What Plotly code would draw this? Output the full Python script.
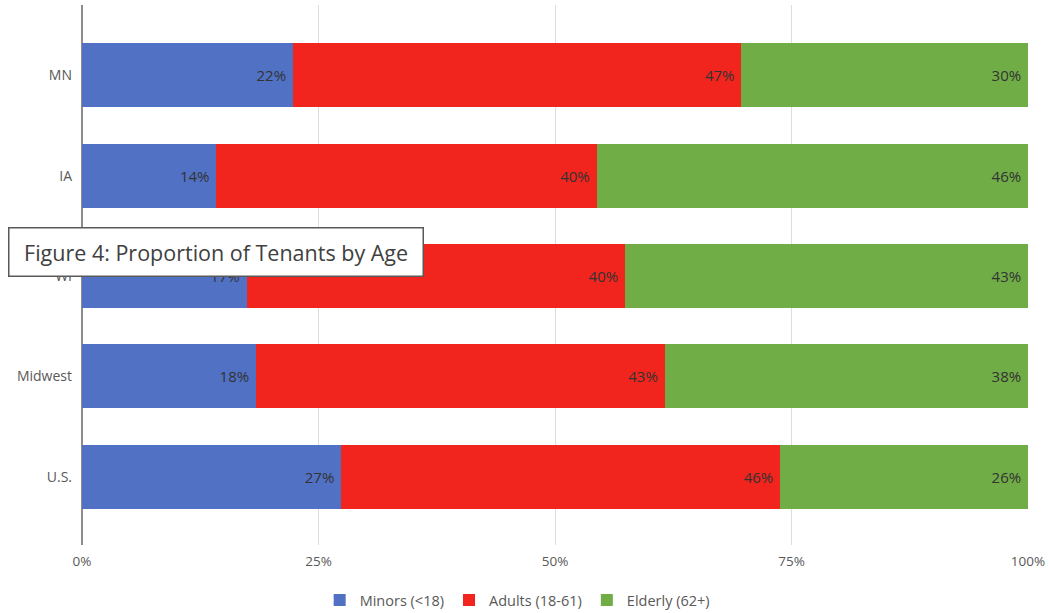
import plotly.graph_objects as go

AZUL  = "#5071C4"
ROJO  = "#F1251E"
VERDE = "#70AD47"
GRIS  = "#595959"

regiones = ["U.S.", "Midwest", "WI", "IA", "MN"]
menores  = [27.4, 18.4, 17.4, 14.2, 22.3]
adultos  = [46.4, 43.2, 40.0, 40.2, 47.4]
mayores  = [26.2, 38.4, 42.6, 45.6, 30.3]

series = [
    ("Minors (<18)", menores, AZUL),
    ("Adults (18-61)", adultos, ROJO),
    ("Elderly (62+)", mayores, VERDE),
]

fig = go.Figure()
for nombre, valores, color in series:
    fig.add_trace(go.Bar(
        y=regiones, x=valores,
        orientation="h",
        name=nombre,
        marker=dict(color=color, line=dict(width=0)),
        texttemplate="%{x:.0f}%\u00a0",
        textposition="inside",
        insidetextanchor="end",
        textfont=dict(color="#333333", size=15, family="Open Sans, sans-serif"),
        cliponaxis=False,
    ))

fig.update_layout(
    barmode="stack",
    bargap=0.36,
    width=1050, height=613,
    plot_bgcolor="white",
    paper_bgcolor="white",
    font=dict(family="Open Sans, sans-serif", size=13, color=GRIS),
    margin=dict(l=82, r=22, t=5, b=68),
    showlegend=True,
    legend=dict(
        orientation="h",
        x=0.46, xanchor="center",
        yref="container",
        y=13 / 613, yanchor="middle",
        font=dict(size=14.5, color=GRIS),
        traceorder="normal",
        itemwidth=30,
    ),
    xaxis=dict(
        range=[0, 100],
        tickvals=[0, 25, 50, 75, 100],
        ticktext=["0%", "25%", "50%", "75%", "100%"],
        showgrid=True,
        gridcolor="#DDDDDD",
        gridwidth=1,
        zeroline=True,
        zerolinecolor="#8C8C8C",
        zerolinewidth=1.5,
        showline=False,
        ticks="",
        ticklabelstandoff=6,
        tickfont=dict(size=13.5, color=GRIS),
        automargin=False,
    ),
    yaxis=dict(
        type="category",
        categoryorder="array",
        categoryarray=regiones,
        range=[-0.68, 4.70],
        showgrid=False,
        showline=False,
        ticks="",
        ticklabelstandoff=9,
        tickfont=dict(size=14, color=GRIS),
        automargin=False,
    ),
    annotations=[dict(
        text="\u00a0Figure 4: Proportion of Tenants by Age\u00a0",
        xref="paper", yref="paper",
        x=(8 - 82) / 946, xanchor="left",
        y=(545 - 252) / 540, yanchor="middle",
        showarrow=False,
        font=dict(size=21.5, color="#404040", family="Open Sans, sans-serif"),
        bgcolor="white",
        bordercolor="#595959",
        borderwidth=1.5,
        borderpad=9,
    )],
)

# la página trae 8px de margen en el body; se quita para que el gráfico quede en 0,0
fig.write_html(
    "out.html",
    config={"displayModeBar": False},
    post_script="document.body.style.margin='0';",
)
